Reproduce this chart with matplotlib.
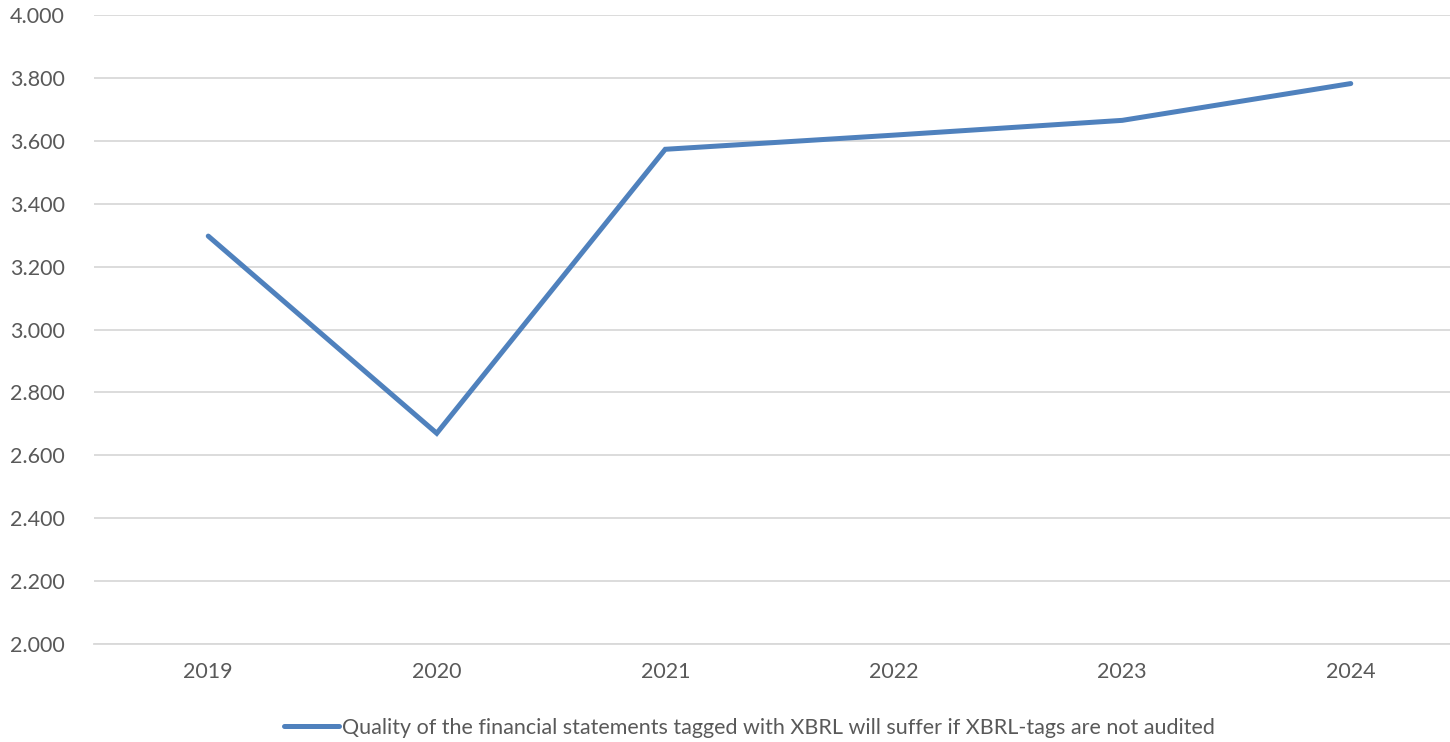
import matplotlib
matplotlib.use("Agg")
import matplotlib.pyplot as plt
from matplotlib.ticker import FuncFormatter

years = ["2019", "2020", "2021", "2022", "2023", "2024"]
values = [3.297, 2.670, 3.573, 3.618, 3.665, 3.782]
series_label = "Quality of the financial statements tagged with XBRL will suffer if XBRL-tags are not audited"
yticks = [2.0, 2.2, 2.4, 2.6, 2.8, 3.0, 3.2, 3.4, 3.6, 3.8, 4.0]

plt.rcParams['font.family'] = ['Lato', 'DejaVu Sans']
fig = plt.figure(figsize=(14.5, 7.42), dpi=100)
ax = fig.add_axes([94/1450, 1-644/742, (1465-94)/1450, (644-15)/742])

x = list(range(len(years)))
line, = ax.plot(x, values, color="#4F81BD", linewidth=3.6, solid_capstyle="round",
                solid_joinstyle="miter", label=series_label, zorder=3)

ax.set_xlim(-0.5, len(years) - 0.5)
ax.set_ylim(2.0, 4.0)
ax.set_yticks(yticks)
ax.yaxis.set_major_formatter(FuncFormatter(lambda v, p: f"{v:.3f}"))
ax.set_xticks(x)
ax.set_xticklabels(years)
ax.grid(axis="y", color="#D9D9D9", linewidth=1.3)
ax.set_axisbelow(True)
for s in ["top", "right", "left"]:
    ax.spines[s].set_visible(False)
ax.spines["bottom"].set_color("#D9D9D9")
ax.spines["bottom"].set_linewidth(1.3)
ax.tick_params(axis="both", length=0, labelsize=15.5, labelcolor="#595959")
ax.tick_params(axis="y", pad=21)
ax.tick_params(axis="x", pad=13)

leg = fig.legend(handles=[line], loc="center", bbox_to_anchor=(749/1450, 1-728/742),
                 frameon=False, fontsize=15.5, handlelength=2.6, handletextpad=0.1)
for t in leg.get_texts():
    t.set_color("#595959")

fig.savefig("out.png", dpi=100)
